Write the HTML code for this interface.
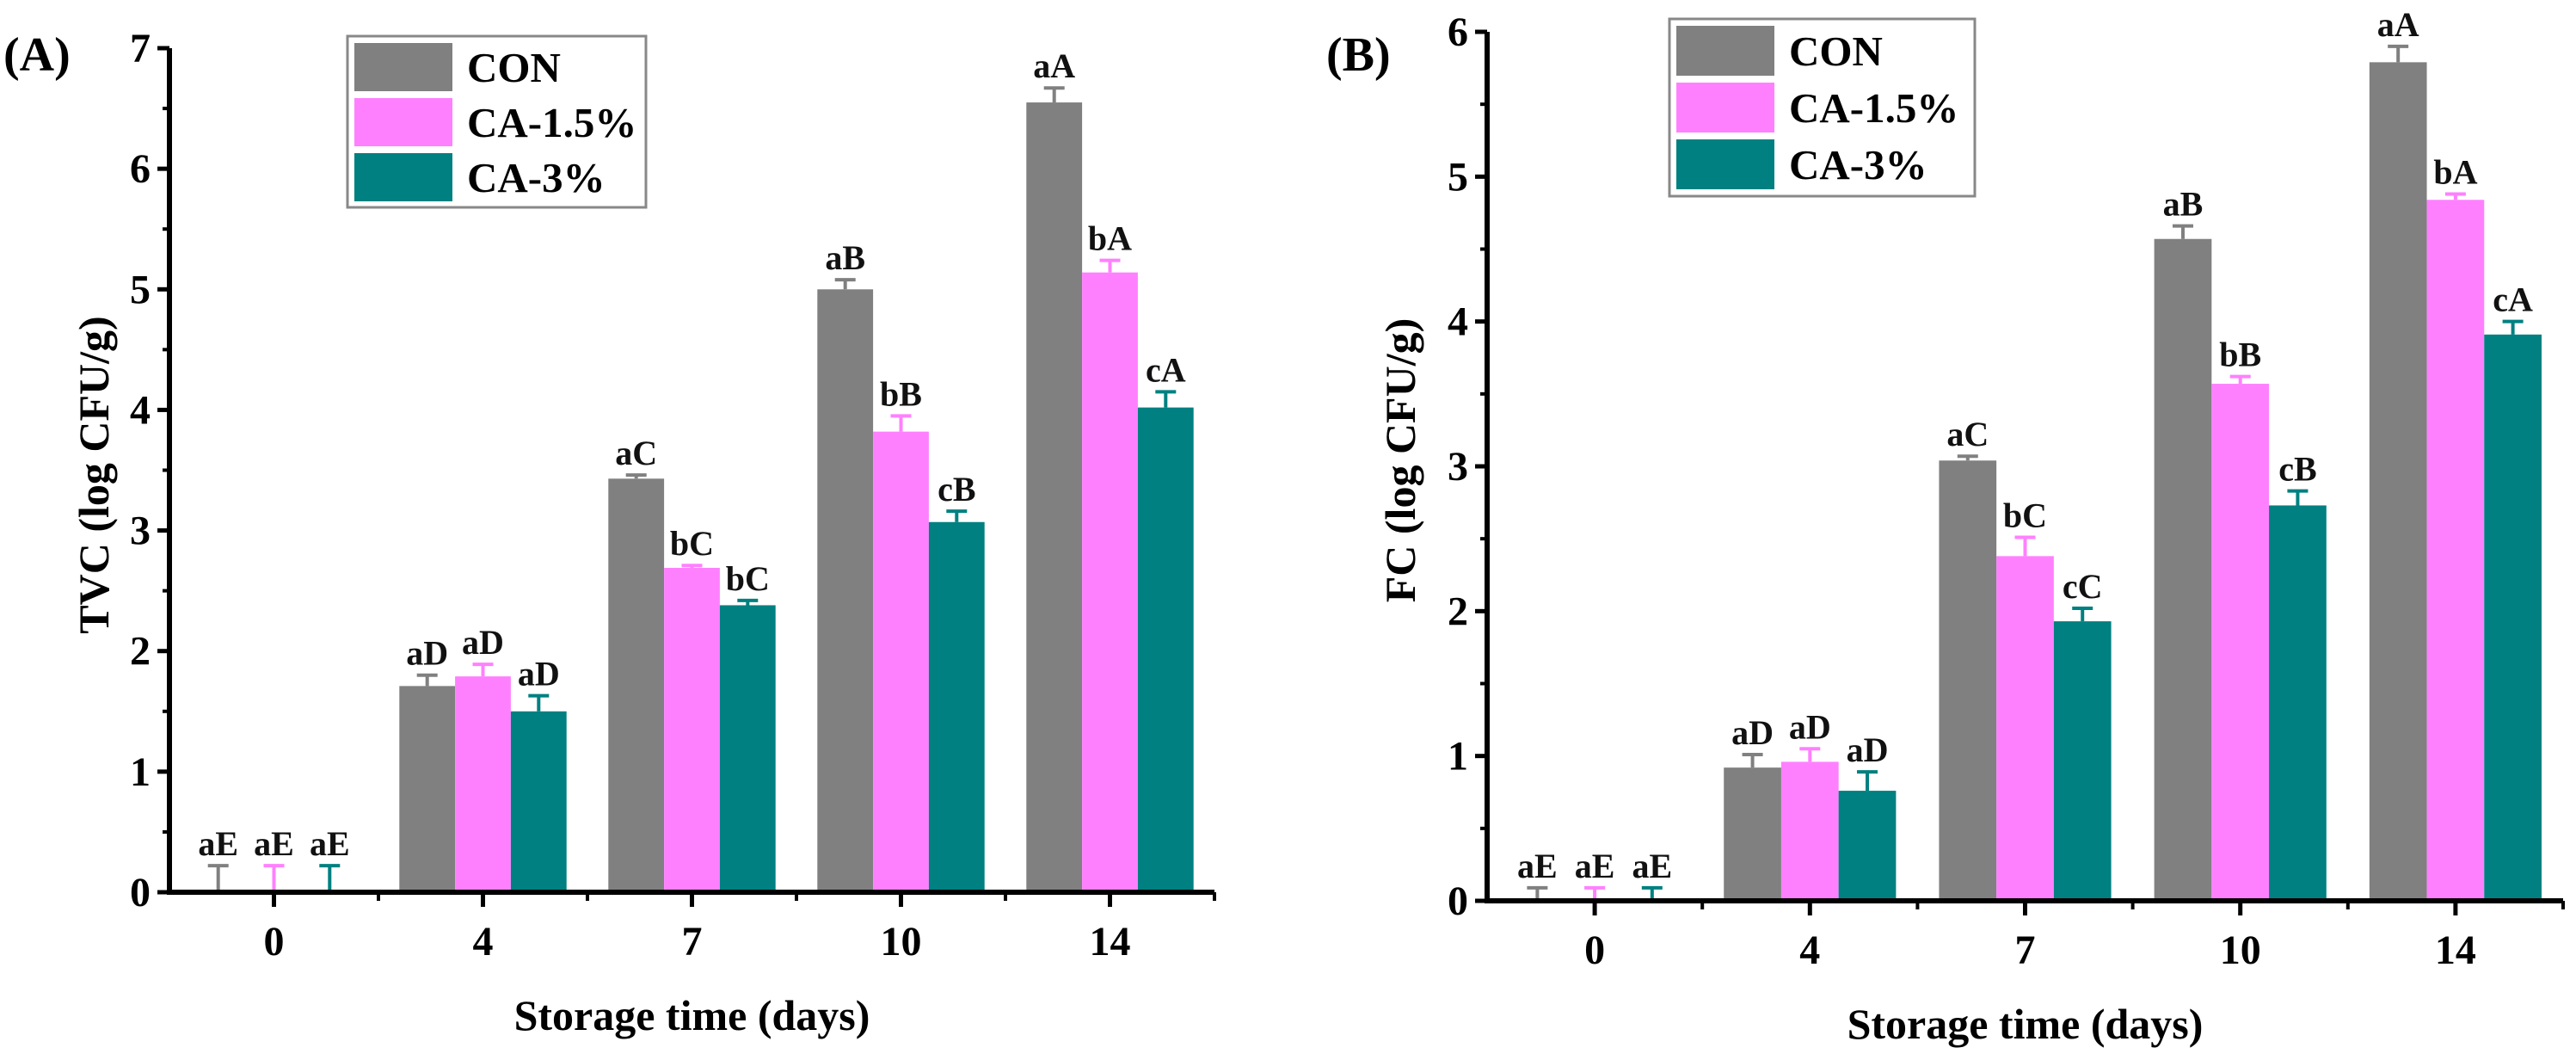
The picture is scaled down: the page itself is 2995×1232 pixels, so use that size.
<!DOCTYPE html>
<html><head><meta charset="utf-8">
<style>
html,body{margin:0;padding:0;background:#fff;}
svg{display:block;font-family:"Liberation Serif",serif;font-weight:bold;}
</style></head>
<body>
<svg id="fig" width="2995" height="1232" viewBox="0 0 2995 1232" xmlns="http://www.w3.org/2000/svg"></svg>
<script>
const categories = ["0","4","7","10","14"];
const seriesNames = ["CON","CA-1.5%","CA-3%"];
const tvcCon = [0, 1.71, 3.43, 5.0, 6.55];
const tvcCa15 = [0, 1.79, 2.69, 3.82, 5.14];
const tvcCa3 = [0, 1.50, 2.38, 3.07, 4.02];
const tvcErrCon = [0.22, 0.09, 0.03, 0.08, 0.12];
const tvcErrCa15 = [0.22, 0.10, 0.02, 0.13, 0.10];
const tvcErrCa3 = [0.22, 0.13, 0.04, 0.09, 0.13];
const tvcLetters = [["aE","aD","aC","aB","aA"],["aE","aD","bC","bB","bA"],["aE","aD","bC","cB","cA"]];
const tvcTicks = [0,1,2,3,4,5,6,7];
const fcCon = [0, 0.92, 3.04, 4.57, 5.79];
const fcCa15 = [0, 0.96, 2.38, 3.57, 4.84];
const fcCa3 = [0, 0.76, 1.93, 2.73, 3.91];
const fcErrCon = [0.09, 0.09, 0.03, 0.09, 0.11];
const fcErrCa15 = [0.09, 0.09, 0.13, 0.05, 0.04];
const fcErrCa3 = [0.09, 0.13, 0.09, 0.10, 0.09];
const fcLetters = [["aE","aD","aC","aB","aA"],["aE","aD","bC","bB","bA"],["aE","aD","cC","cB","cA"]];
const fcTicks = [0,1,2,3,4,5,6];

const colors = ["#808080","#ff80ff","#008080"];
const svg = document.getElementById('fig');
const NS = "http://www.w3.org/2000/svg";
function mk(tag, attrs, parent){const e=document.createElementNS(NS,tag);for(const k in attrs)e.setAttribute(k,attrs[k]);(parent||svg).appendChild(e);return e;}

function panel(cfg){
  const g = mk('g',{});
  
  
  const yMax = cfg.ticks[cfg.ticks.length-1];
  const y = v => cfg.y0 - (cfg.y0 - cfg.yTop) * v / yMax;
  const step = (cfg.xR - cfg.xL) / categories.length;
  const xc = i => cfg.xL + step*(i+0.5);
  const bw = step*0.8/3;
  // bars
  cfg.series.forEach((vals, s) => {
    vals.forEach((v, i) => {
      const x0 = xc(i) - 1.5*bw + s*bw;
      if (v > 0) {
        const r = mk('rect',{x:x0,y:y(v),width:bw,height:cfg.y0-y(v),fill:colors[s]},g);
        
        
      }
      const cx = x0 + bw/2, top = y(v + cfg.errs[s][i]);
      const eb = mk('path',{d:`M${cx},${y(v)} V${top} M${cx-12},${top} H${cx+12}`,stroke:colors[s],'stroke-width':4,fill:'none'},g);
      
      
      const t = mk('text',{x:cx,y:top-12,'text-anchor':'middle','font-size':40,fill:'#111'},g);
      t.textContent = cfg.letters[s][i];
      
      
    });
  });
  // axes
  const ax = mk('path',{d:`M${cfg.xL},${cfg.yTop} V${cfg.y0} H${cfg.xR}`,stroke:'#000','stroke-width':6,fill:'none'},g);
  
  
  cfg.ticks.forEach(t => {
    mk('line',{x1:cfg.xL-14,x2:cfg.xL,y1:y(t),y2:y(t),stroke:'#000','stroke-width':5},g);
    if (t < yMax) mk('line',{x1:cfg.xL-8,x2:cfg.xL,y1:y(t+0.5),y2:y(t+0.5),stroke:'#000','stroke-width':4},g);
    const tl = mk('text',{x:cfg.xL-22,y:y(t)+16,'text-anchor':'end','font-size':48},g);
    tl.textContent = t;
    
    
  });
  categories.forEach((c,i) => {
    mk('line',{x1:xc(i),x2:xc(i),y1:cfg.y0,y2:cfg.y0+17,stroke:'#000','stroke-width':5},g);
    mk('line',{x1:cfg.xL+step*(i+1),x2:cfg.xL+step*(i+1),y1:cfg.y0,y2:cfg.y0+10,stroke:'#000','stroke-width':4},g);
    const tl = mk('text',{x:xc(i),y:cfg.y0+73,'text-anchor':'middle','font-size':48},g);
    tl.textContent = c;
    
    
  });
  const xt = mk('text',{x:(cfg.xL+cfg.xR)/2,y:cfg.y0+160,'text-anchor':'middle','font-size':50},g);
  xt.textContent = 'Storage time (days)';
  
  
  const yt = mk('text',{x:0,y:0,'text-anchor':'middle','font-size':50,transform:`translate(${cfg.yTitleX},${cfg.yTitleY}) rotate(-90)`},g);
  yt.textContent = cfg.yTitle;
  
  
  const pl = mk('text',{x:cfg.labelX,y:82,'font-size':56},g);
  pl.textContent = cfg.label;
  
  
  // legend
  const L = cfg.legend;
  const lg = mk('g',{},g);
  
  
  mk('rect',{x:L.x,y:L.y,width:L.w,height:L.h,fill:'#fff',stroke:'#888','stroke-width':3},lg);
  seriesNames.forEach((n,s) => {
    const sy = L.y + 8 + s*L.row;
    const sw = mk('rect',{x:L.x+8,y:sy,width:L.sw,height:L.row-8,fill:colors[s]},lg);
    
    
    const lt = mk('text',{x:L.x+L.sw+25,y:sy+(L.row-8)/2+17,'font-size':49},lg);
    lt.textContent = n;
    
    
  });
}

panel({name:'panel-a-tvc', label:'(A)', labelX:4, xL:197, xR:1412, y0:1037, yTop:56,
  ticks:tvcTicks, series:[tvcCon,tvcCa15,tvcCa3], errs:[tvcErrCon,tvcErrCa15,tvcErrCa3], letters:tvcLetters,
  yTitle:'TVC (log CFU/g)', yTitleX:126, yTitleY:552,
  legend:{x:404,y:42,w:347,h:199,sw:114,row:64}});
panel({name:'panel-b-fc', label:'(B)', labelX:1542, xL:1729, xR:2980, y0:1047, yTop:37,
  ticks:fcTicks, series:[fcCon,fcCa15,fcCa3], errs:[fcErrCon,fcErrCa15,fcErrCa3], letters:fcLetters,
  yTitle:'FC (log CFU/g)', yTitleX:1645, yTitleY:535,
  legend:{x:1941,y:22,w:355,h:206,sw:114,row:66}});
</script>
</body></html>
